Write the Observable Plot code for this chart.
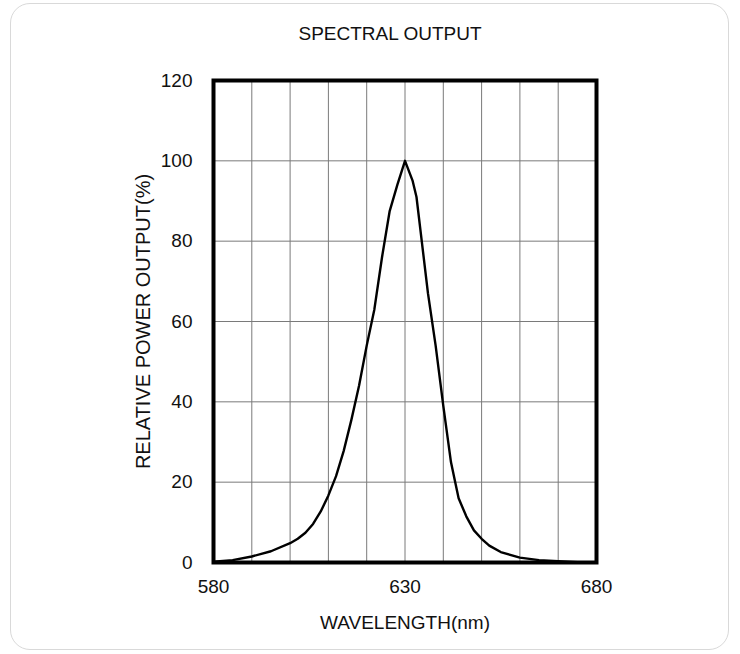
<!DOCTYPE html>
<html>
<head>
<meta charset="utf-8">
<script src="https://cdn.jsdelivr.net/npm/d3@7"></script>
<script src="https://cdn.jsdelivr.net/npm/@observablehq/plot@0.6"></script>
<style>
  html, body { margin: 0; padding: 0; background: #fff; }
  #wrap { position: relative; width: 740px; height: 654px; overflow: hidden; font-family: "Liberation Sans", Arial, sans-serif; }
  #card { position: absolute; left: 10px; top: 3px; width: 719px; height: 647px; border: 1px solid #d9d9d9; border-radius: 20px; box-sizing: border-box; }
  #title { position: absolute; left: 0; width: 780px; top: 22px; text-align: center; font-size: 19px; color: #111; line-height: 24px; }
  #chart { position: absolute; left: 0; top: 0; }
</style>
</head>
<body>
<div id="wrap">
  <div id="card"></div>
  <div id="chart"></div>
  <div id="title">SPECTRAL OUTPUT</div>
</div>
<script>
const titleText = "SPECTRAL OUTPUT";
const xLabel = "WAVELENGTH(nm)";
const yLabel = "RELATIVE POWER OUTPUT(%)";
const xTicks = [580, 630, 680];
const yTicks = [0, 20, 40, 60, 80, 100, 120];
const xGrid = [590, 600, 610, 620, 630, 640, 650, 660, 670];
const yGrid = [20, 40, 60, 80, 100];
const wavelength = [580, 585, 590, 595, 600, 602, 604, 606, 608, 610, 612, 614, 616, 618, 620, 622, 624, 626, 628, 630, 632, 633, 634, 636, 638, 640, 642, 643, 644, 646, 648, 650, 652, 655, 660, 665, 670, 675, 680];
const power      = [0.2, 0.6, 1.5, 2.8, 4.8, 5.9, 7.4, 9.6, 12.7, 16.7, 21.5, 27.8, 35.5, 44, 54, 63, 76, 87.5, 94, 100, 95, 91, 83, 67, 54, 39, 25, 20.5, 16, 11.5, 8, 5.9, 4.2, 2.6, 1.2, 0.6, 0.3, 0.1, 0];

const data = wavelength.map((w, i) => ({w, p: power[i]}));

const chart = Plot.plot({
  width: 740,
  height: 654,
  marginLeft: 213,
  marginRight: 144,
  marginTop: 80,
  marginBottom: 92,
  style: {fontFamily: "Liberation Sans, Arial, sans-serif", fontSize: "19px", color: "#111", background: "transparent"},
  x: {domain: [580, 680]},
  y: {domain: [0, 120]},
  marks: [
    Plot.gridX(xGrid, {stroke: "#7a7a7a", strokeOpacity: 1, strokeWidth: 1}),
    Plot.gridY(yGrid, {stroke: "#7a7a7a", strokeOpacity: 1, strokeWidth: 1}),
    Plot.axisX(xTicks, {tickSize: 0, tickPadding: 17, label: null, fontSize: 19}),
    Plot.axisY(yTicks, {tickSize: 0, tickPadding: 21, label: null, fontSize: 19}),
    Plot.line(data, {x: "w", y: "p", stroke: "#000", strokeWidth: 2.4}),
    Plot.frame({stroke: "#000", strokeWidth: 4}),
    Plot.text([xLabel], {frameAnchor: "bottom", dy: 66, fontSize: 19, fill: "#111", textAnchor: "middle"}),
    Plot.text([yLabel], {frameAnchor: "left", dx: -70, rotate: -90, fontSize: 20, fill: "#111", textAnchor: "middle"})
  ]
});
document.getElementById("chart").appendChild(chart);
document.getElementById("title").textContent = titleText;
</script>
</body>
</html>
